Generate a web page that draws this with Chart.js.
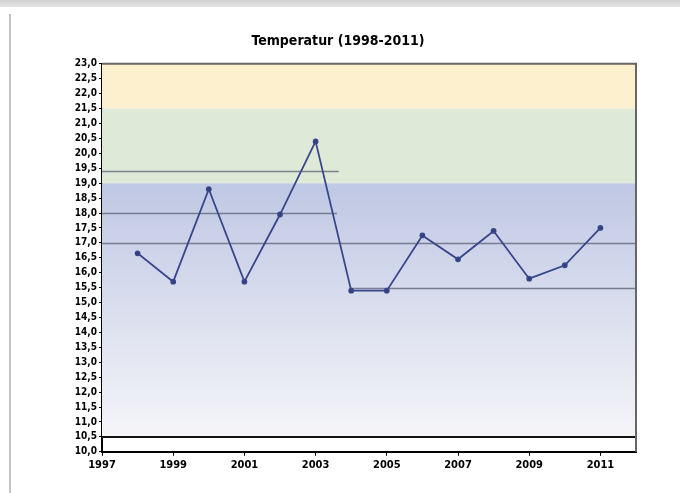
<!DOCTYPE html>
<html>
<head>
<meta charset="utf-8">
<script src="https://cdn.jsdelivr.net/npm/chart.js@4/dist/chart.umd.min.js"></script>
<style>
  html, body { margin: 0; padding: 0; background: #fff; }
  #wrap { position: relative; width: 680px; height: 493px; overflow: hidden; }
  #topbar { position: absolute; left: 0; top: 0; width: 680px; height: 7px; background: linear-gradient(#cfcfcf, #e6e6e6); }
  #leftline { position: absolute; left: 9px; top: 14px; width: 2px; height: 479px; background: #c4c4c4; }
  #chartBox { position: absolute; left: 0; top: 0; width: 680px; height: 493px; }
</style>
</head>
<body>
<div id="wrap">
  <div id="topbar"></div>
  <div id="leftline"></div>
  <div id="chartBox"><canvas id="tempChart"></canvas></div>
</div>
<script>
// data
const years = [1998, 1999, 2000, 2001, 2002, 2003, 2004, 2005, 2006, 2007, 2008, 2009, 2010, 2011];
const temps = [16.65, 15.7, 18.8, 15.7, 17.95, 20.4, 15.4, 15.4, 17.25, 16.45, 17.4, 15.8, 16.25, 17.5];
const xTicks = [1997, 1999, 2001, 2003, 2005, 2007, 2009, 2011];

// background zones: [from, to, colour]
const zoneBottoms = [21.5, 19.0];
const zoneTops = [23.0, 21.5];
const zoneColors = ['#fcf0cf', '#dfe9d7'];

// reference lines: value, start year, end year
const refValues = [19.4, 18.0, 17.0, 15.5];
const refStarts = [1997, 1997, 1997, 2004];
const refEnds = [2003.65, 2003.6, 2012, 2012];

const bgPlugin = {
    id: 'bgZones',
    beforeDatasetsDraw(chart) {
        const { ctx, chartArea, scales } = chart;
        const x = scales.x, y = scales.y;
        ctx.save();
        // blue gradient zone
        const yTop = y.getPixelForValue(19.0);
        const yBot = y.getPixelForValue(10.5);
        const grad = ctx.createLinearGradient(0, yTop, 0, yBot);
        grad.addColorStop(0, '#bfc8e4');
        grad.addColorStop(1, '#f5f5f8');
        ctx.fillStyle = grad;
        ctx.fillRect(chartArea.left, yTop, chartArea.width, yBot - yTop);
        zoneTops.forEach(function (top, i) {
            const p1 = y.getPixelForValue(top);
            const p2 = y.getPixelForValue(zoneBottoms[i]);
            ctx.fillStyle = zoneColors[i];
            ctx.fillRect(chartArea.left, p1, chartArea.width, p2 - p1);
        });
        // reference lines
        ctx.strokeStyle = 'rgba(90,95,115,0.75)';
        ctx.lineWidth = 1.3;
        refValues.forEach(function (v, i) {
            const py = Math.round(y.getPixelForValue(v)) + 0.5;
            ctx.beginPath();
            ctx.moveTo(x.getPixelForValue(refStarts[i]), py);
            ctx.lineTo(x.getPixelForValue(refEnds[i]), py);
            ctx.stroke();
        });
        // thick line at 10,5
        ctx.strokeStyle = '#111';
        ctx.lineWidth = 2;
        const p105 = Math.round(y.getPixelForValue(10.5));
        ctx.beginPath();
        ctx.moveTo(chartArea.left, p105);
        ctx.lineTo(chartArea.right, p105);
        ctx.stroke();
        // frame top/right
        ctx.strokeStyle = '#666';
        ctx.lineWidth = 2;
        ctx.beginPath();
        ctx.moveTo(chartArea.left, chartArea.top);
        ctx.lineTo(chartArea.right, chartArea.top);
        ctx.lineTo(chartArea.right, chartArea.bottom);
        ctx.stroke();
        ctx.restore();
    }
};

const ctx = document.getElementById('tempChart').getContext('2d');
new Chart(ctx, {
    type: 'line',
    data: {
        datasets: [{
            label: 'Temperatur',
            data: years.map((yr, i) => ({ x: yr, y: temps[i] })),
            borderColor: '#37478a',
            backgroundColor: '#2e3c78',
            borderWidth: 1.8,
            pointRadius: 2,
            pointHoverRadius: 2,
            tension: 0
        }]
    },
    options: {
        responsive: true,
        maintainAspectRatio: false,
        animation: false,
        layout: { padding: { left: 40, right: 44, top: 33, bottom: 18 } },
        plugins: {
            legend: { display: false },
            tooltip: { enabled: false },
            title: {
                display: true,
                text: 'Temperatur (1998-2011)',
                color: '#000',
                font: { family: 'Liberation Sans Narrow, DejaVu Sans Condensed, sans-serif', size: 14, weight: 'bold' },
                padding: { top: 0, bottom: 14 }
            }
        },
        scales: {
            x: {
                type: 'linear',
                min: 1997,
                max: 2012,
                afterBuildTicks(scale) { scale.ticks = xTicks.map(v => ({ value: v })); },
                ticks: {
                    color: '#000',
                    maxRotation: 0,
                    font: { family: 'Liberation Sans Narrow, DejaVu Sans Condensed, sans-serif', size: 11, weight: 'bold' },
                    callback: v => String(v)
                },
                grid: { drawOnChartArea: false, color: '#000', tickLength: 4 },
                border: { color: '#000', width: 2 }
            },
            y: {
                min: 10,
                max: 23,
                afterFit(scale) { scale.width = 62; },
                ticks: {
                    stepSize: 0.5,
                    autoSkip: false,
                    color: '#000',
                    padding: 2,
                    font: { family: 'Liberation Sans Narrow, DejaVu Sans Condensed, sans-serif', size: 10, weight: 'bold' },
                    callback: v => v.toFixed(1).replace('.', ',')
                },
                grid: { drawOnChartArea: false, color: '#000', tickLength: 3 },
                border: { color: '#000', width: 2 }
            }
        }
    },
    plugins: [bgPlugin]
});
</script>
</body>
</html>
